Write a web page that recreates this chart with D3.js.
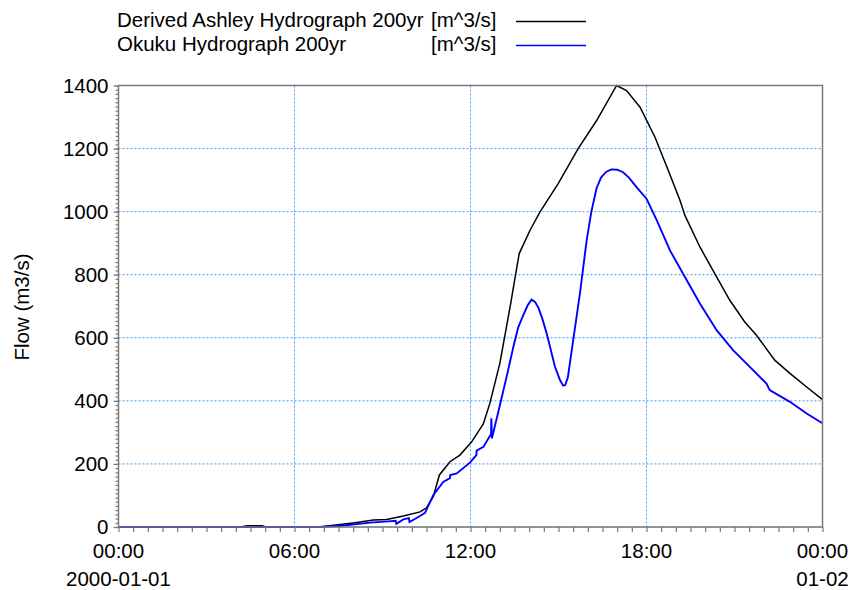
<!DOCTYPE html>
<html>
<head>
<meta charset="utf-8">
<script src="https://cdn.jsdelivr.net/npm/d3@7"></script>
<style>
  body { margin: 0; background: #fff; }
  svg text { font-family: "Liberation Sans", Arial, sans-serif; fill: #000; }
</style>
</head>
<body>
<svg id="chart" width="853" height="590"></svg>
<script>
// hours since 2000-01-01 00:00, flow in m3/s
var ashleyHours = [0, 4.2, 4.4, 4.9, 5.0, 6.9, 7.55, 8.0, 8.69, 9.14, 9.71, 10.28, 10.5, 10.73, 10.94,
    11.3, 11.64, 12.04, 12.44, 12.66, 13.0, 13.35, 13.66, 14.03, 14.37, 14.99, 15.67, 16.3, 16.98,
    17.32, 17.78, 18.29, 18.74, 19.14, 19.31, 19.82, 20.39, 20.84, 21.35, 21.75, 22.37, 22.89, 23.46, 24];
var ashleyFlow = [1, 1, 4, 4, 1, 1, 8, 13, 22, 24, 35, 48, 61, 96, 165,
    207, 228, 270, 328, 392, 519, 698, 867, 941, 999, 1089, 1200, 1289, 1400,
    1384, 1331, 1236, 1131, 1036, 988, 888, 793, 719, 650, 608, 529, 487, 444, 404];

var okukuHours = [0, 6.87, 7.6, 8.58, 9.2, 9.45, 9.47, 9.71, 9.9, 9.92, 10.28, 10.45, 10.73, 11.07,
    11.3, 11.31, 11.53, 11.98, 12.2, 12.21, 12.44, 12.7, 12.71, 12.73, 13.0, 13.23, 13.46, 13.63,
    13.8, 13.95, 14.08, 14.2, 14.31, 14.45, 14.6, 14.88, 15.05, 15.16, 15.23, 15.32, 15.5, 15.73,
    15.96, 16.12, 16.3, 16.45, 16.62, 16.8, 17.0, 17.2, 17.4, 17.66, 18.0, 18.34, 18.8, 19.31,
    19.82, 20.39, 20.95, 21.52, 22.09, 22.2, 22.89, 23.46, 24];
var okukuFlow = [0, 0, 4, 14, 18, 20, 10, 24, 28, 16, 35, 45, 101, 143,
    155, 165, 170, 204, 228, 242, 254, 295, 345, 281, 385, 476, 571, 634,
    672, 703, 721, 714, 696, 660, 613, 508, 466, 448, 450, 475, 592, 740,
    909, 1000, 1075, 1108, 1126, 1134, 1133, 1125, 1108, 1078, 1041, 975, 877, 793,
    709, 624, 561, 508, 455, 434, 397, 360, 329];

var seriesNames = ["Derived Ashley Hydrograph 200yr", "Okuku Hydrograph 200yr"];
var seriesUnits = ["[m^3/s]", "[m^3/s]"];
var seriesColors = ["#000000", "#0000ff"];

var yTicks = [0, 200, 400, 600, 800, 1000, 1200, 1400];
var xTicks = [0, 6, 12, 18, 24];
var xTickTime = ["00:00", "06:00", "12:00", "18:00", "00:00"];
var xTickDate = ["2000-01-01", "", "", "", "01-02"];

var svg = d3.select('#chart');
var plotLeft = 118.5, plotRight = 822.5, plotTop = 85.5, plotBottom = 527;
var fontSize = '20.5px';

var x = d3.scaleLinear().domain([0, 24]).range([plotLeft, plotRight]);
var y = d3.scaleLinear().domain([0, 1400]).range([plotBottom, plotTop]);

var axisColor = '#7a7a7a';
var gridColor = '#3d9bff';

// Grid
var grid = svg.append('g');
grid.selectAll('line.h').data(yTicks.slice(0, -1)).enter().append('line')
    .attr('x1', plotLeft).attr('x2', plotRight)
    .attr('y1', function (d) { return y(d); }).attr('y2', function (d) { return y(d); })
    .attr('stroke', gridColor).attr('stroke-width', 1).attr('stroke-dasharray', '2,2');
grid.selectAll('line.v').data(xTicks.slice(1, -1)).enter().append('line')
    .attr('y1', plotTop).attr('y2', plotBottom)
    .attr('x1', function (d) { return x(d); }).attr('x2', function (d) { return x(d); })
    .attr('stroke', gridColor).attr('stroke-width', 1).attr('stroke-dasharray', '2,2');

// Lines
var line = d3.line()
    .x(function (d) { return x(d[0]); })
    .y(function (d) { return y(d[1]); });

var ashley = d3.zip(ashleyHours, ashleyFlow);
var okuku = d3.zip(okukuHours, okukuFlow);

svg.append('path').datum(ashley)
    .attr('d', line).attr('fill', 'none')
    .attr('stroke', seriesColors[0]).attr('stroke-width', 1.5);
svg.append('path').datum(okuku)
    .attr('d', line).attr('fill', 'none')
    .attr('stroke', seriesColors[1]).attr('stroke-width', 1.9);

// Frame
svg.append('rect')
    .attr('x', plotLeft).attr('y', plotTop)
    .attr('width', plotRight - plotLeft).attr('height', plotBottom - plotTop)
    .attr('fill', 'none').attr('stroke', axisColor).attr('stroke-width', 1.5);

// Axes
function styleAxis(g) {
    g.select('.domain').remove();
    g.selectAll('.tick line').attr('stroke', axisColor).attr('stroke-width', 1.2);
    g.selectAll('.tick text').attr('fill', '#000').style('font-size', fontSize)
        .style('font-family', '"Liberation Sans", Arial, sans-serif');
}

svg.append('g')
    .attr('transform', 'translate(' + plotLeft + ',0)')
    .call(d3.axisLeft(y).tickValues(d3.range(0, 1400.01, 200 / 15)).tickSize(3).tickFormat(''))
    .call(styleAxis);
svg.append('g')
    .attr('transform', 'translate(' + plotLeft + ',0)')
    .call(d3.axisLeft(y).tickValues(yTicks).tickSize(5).tickPadding(5).tickFormat(d3.format('d')))
    .call(styleAxis);

svg.append('g')
    .attr('transform', 'translate(0,' + plotBottom + ')')
    .call(d3.axisBottom(x).tickValues(d3.range(0, 24.01, 0.5)).tickSize(5).tickFormat(''))
    .call(styleAxis);

var xLabels = svg.append('g');
xLabels.selectAll('text.time').data(xTicks).enter().append('text')
    .attr('x', function (d) { return x(d); }).attr('y', 558)
    .attr('text-anchor', 'middle').style('font-size', fontSize)
    .text(function (d, i) { return xTickTime[i]; });
xLabels.selectAll('text.date').data(xTicks).enter().append('text')
    .attr('x', function (d) { return x(d); }).attr('y', 586)
    .attr('text-anchor', 'middle').style('font-size', fontSize)
    .text(function (d, i) { return xTickDate[i]; });

svg.append('text')
    .attr('transform', 'translate(29, 307) rotate(-90)')
    .attr('text-anchor', 'middle').style('font-size', fontSize)
    .text("Flow (m3/s)");

// Legend
var legend = svg.selectAll('g.legend').data(seriesNames).enter().append('g')
    .attr('transform', function (d, i) { return 'translate(0,' + (i * 24) + ')'; });
legend.append('text').attr('x', 117).attr('y', 27).style('font-size', fontSize)
    .text(function (d) { return d; });
legend.append('text').attr('x', 431).attr('y', 27).style('font-size', fontSize)
    .text(function (d, i) { return seriesUnits[i]; });
legend.append('line')
    .attr('x1', 516).attr('x2', 586).attr('y1', 21.5).attr('y2', 21.5)
    .attr('stroke', function (d, i) { return seriesColors[i]; })
    .attr('stroke-width', 1.5);
</script>
</body>
</html>
